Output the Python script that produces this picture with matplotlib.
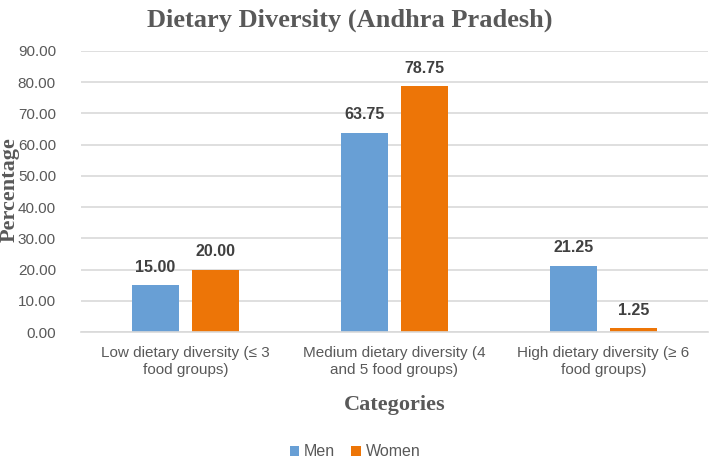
import numpy as np
import matplotlib
matplotlib.use('Agg')
from matplotlib import pyplot as plt

categories = ['Low dietary diversity (≤ 3\nfood groups)',
              'Medium dietary diversity (4\nand 5 food groups)',
              'High dietary diversity (≥ 6\nfood groups)']
men = [15.00, 63.75, 21.25]
women = [20.00, 78.75, 1.25]
series_names = ['Men', 'Women']
y_ticks = [0, 10, 20, 30, 40, 50, 60, 70, 80, 90]

men_color = '#689fd5'
women_color = '#ed7507'
tick_color = '#595959'
label_color = '#404040'
grid_color = '#d9d9d9'

plt.rcParams['font.family'] = ['Liberation Sans', 'DejaVu Sans']

fig = plt.figure(figsize=(7.1, 4.62), dpi=100)
ax = fig.add_axes([81 / 710, 1 - 332 / 462, 627 / 710, (332 - 51) / 462])

x = np.arange(len(categories))
bar_w = 0.225
off = 0.1435
b1 = ax.bar(x - off, men, bar_w, color=men_color, label=series_names[0], zorder=3)
b2 = ax.bar(x + off, women, bar_w, color=women_color, label=series_names[1], zorder=3)

# value labels above each bar
for bars in (b1, b2):
    for rect in bars:
        h = rect.get_height()
        ax.annotate('%.2f' % h, (rect.get_x() + rect.get_width() / 2, h),
                    xytext=(0, 13), textcoords='offset points',
                    ha='center', va='center', fontsize=11.5, fontweight='bold',
                    color=label_color)

ax.set_xlim(-0.5, 2.5)
ax.set_ylim(0, 90)
ax.set_yticks(y_ticks)
ax.set_yticklabels(['%.2f' % t for t in y_ticks])
ax.set_xticks(x)
ax.set_xticklabels(categories, linespacing=1.25)
ax.tick_params(axis='both', length=0, labelsize=11, labelcolor=tick_color)
ax.tick_params(axis='x', pad=10)
ax.tick_params(axis='y', pad=18)
ax.grid(axis='y', color=grid_color, linewidth=1.2, zorder=0)
for s in ['top', 'right', 'left']:
    ax.spines[s].set_visible(False)
ax.spines['bottom'].set_color(grid_color)
ax.spines['bottom'].set_linewidth(1.2)
ax.spines['bottom'].set_zorder(4)

fig.text(0.492, 1 - 20 / 462, 'Dietary Diversity (Andhra Pradesh)', ha='center', va='center',
         fontsize=19, fontweight='bold', color=tick_color, family='Liberation Serif')
fig.text(10 / 710, 1 - 190 / 462, 'Percentage', rotation=90, ha='center', va='center',
         fontsize=16, fontweight='bold', color=tick_color, family='Liberation Serif')
fig.text(394.5 / 710, 1 - 405 / 462, 'Categories', ha='center', va='center',
         fontsize=16, fontweight='bold', color=tick_color, family='Liberation Serif')

leg = fig.legend(handles=[b1, b2], loc='center', bbox_to_anchor=(355 / 710, 1 - 452 / 462),
                 ncol=2, frameon=False, fontsize=11.5, handlelength=0.6, handleheight=0.6,
                 handletextpad=0.3, columnspacing=1.0, borderpad=0.1)
for t in leg.get_texts():
    t.set_color(tick_color)

fig.savefig('out.png', dpi=100)
